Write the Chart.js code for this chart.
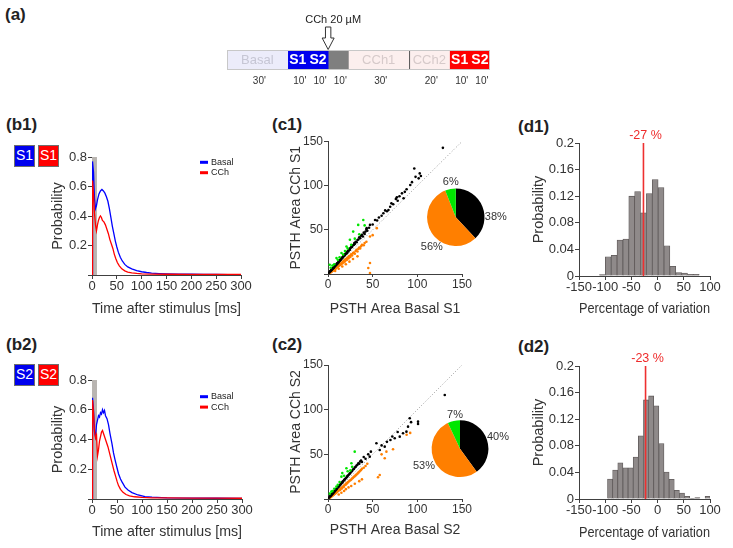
<!DOCTYPE html>
<html><head><meta charset="utf-8">
<script src="https://cdn.jsdelivr.net/npm/chart.js@4.4.1/dist/chart.umd.min.js"></script>
<style>
html,body{margin:0;padding:0;background:#fff;}
body{width:733px;height:548px;overflow:hidden;position:relative;font-family:'Liberation Sans',Arial,sans-serif;}
canvas{position:absolute;}
.plbl{position:absolute;font-weight:bold;font-size:17px;line-height:20px;color:#222;}
.sbox{position:absolute;box-sizing:border-box;width:21px;height:22px;border:1.5px solid #6e6e6e;color:#fff;font-size:14px;text-align:center;line-height:19px;}
</style></head><body>
<div class="plbl" style="left:5px;top:5px">(a)</div>
<div class="plbl" style="left:6px;top:115px">(b1)</div>
<div class="plbl" style="left:272px;top:115px">(c1)</div>
<div class="plbl" style="left:518px;top:117px">(d1)</div>
<div class="plbl" style="left:6px;top:335px">(b2)</div>
<div class="plbl" style="left:272px;top:335px">(c2)</div>
<div class="plbl" style="left:518px;top:337px">(d2)</div>
<div class="sbox" style="left:14px;top:145px;background:#0000ee">S1</div>
<div class="sbox" style="left:38px;top:145px;background:#ff0000">S1</div>
<div class="sbox" style="left:14px;top:364px;background:#0000ee">S2</div>
<div class="sbox" style="left:38px;top:364px;background:#ff0000">S2</div>
<script>
// ---------------- DATA ----------------
// (a) protocol
const segNames   = ['Basal','S1','S2','','CCh1','CCh2','S1','S2'];
const segMinutes = [30,10,10,10,30,20,10,10];
const drugLabel  = 'CCh 20 µM';
const drugSegment = 3;

// (b) PSTH curves [time ms, probability]
const stimWindow = [0, 10];
const b1Basal = [[0,0],[1,0.77],[3,0.70],[5,0.52],[7,0.45],[9,0.47],[11,0.51],[14,0.55],[17,0.57],[20,0.58],[23,0.57],[26,0.555],[29,0.53],[32,0.50],[35,0.45],[38,0.39],[41,0.33],[44,0.28],[47,0.23],[50,0.19],[53,0.155],[57,0.12],[61,0.095],[66,0.072],[72,0.055],[80,0.042],[90,0.03],[100,0.022],[110,0.017],[120,0.013],[135,0.01],[150,0.008],[175,0.006],[200,0.005],[225,0.004],[250,0.004],[275,0.003],[300,0.003]];
const b1CCh = [[0,0],[1,0.64],[3,0.55],[5,0.42],[7,0.34],[9,0.30],[11,0.34],[13,0.37],[15,0.39],[17,0.40],[19,0.39],[21,0.37],[24,0.36],[27,0.34],[30,0.31],[33,0.28],[36,0.24],[39,0.21],[42,0.18],[45,0.14],[48,0.11],[51,0.085],[55,0.062],[60,0.042],[66,0.028],[72,0.02],[80,0.015],[90,0.011],[100,0.008],[120,0.006],[150,0.005],[200,0.004],[250,0.004],[300,0.004]];
const b2Basal = [[0,0],[1,0.68],[3,0.60],[5,0.45],[7,0.42],[9,0.50],[11,0.53],[13,0.56],[15,0.55],[17,0.58],[19,0.57],[21,0.60],[23,0.58],[25,0.595],[27,0.56],[30,0.54],[33,0.50],[36,0.44],[40,0.37],[43,0.31],[46,0.265],[50,0.21],[53,0.17],[57,0.135],[60,0.115],[66,0.08],[72,0.06],[80,0.043],[92,0.027],[106,0.016],[120,0.012],[150,0.008],[200,0.006],[250,0.005],[300,0.004]];
const b2CCh = [[0,0],[1,0.665],[3,0.58],[5,0.46],[7,0.41],[9,0.43],[11,0.29],[13,0.33],[15,0.39],[17,0.42],[19,0.45],[21,0.46],[23,0.44],[26,0.41],[29,0.38],[32,0.35],[35,0.31],[38,0.27],[41,0.23],[44,0.19],[47,0.155],[50,0.12],[53,0.09],[57,0.065],[62,0.045],[68,0.03],[75,0.021],[85,0.015],[100,0.011],[120,0.008],[150,0.007],[200,0.006],[250,0.006],[300,0.005]];

// (c) PSTH areas [basal, CCh]
const c1Black = [[1,1.5],[2,2.4],[2.5,3.2],[3,3.4],[3.5,4.3],[4,4.6],[4.5,5.4],[5,5.6],[5.5,6.6],[6,6.8],[6.5,7.1],[7,8.2],[7.5,8.4],[8,9.3],[8.5,9.5],[9,10.4],[9.5,10.6],[10,11.8],[10.5,12],[11,12.3],[11.5,13.4],[12,13.5],[12.5,14.8],[13,14.6],[13.5,15.7],[14,15.8],[14.5,17],[15,16.9],[15.5,18.2],[16,18.1],[16.5,19],[17,19.8],[17.5,20.5],[18,20.4],[18.5,21.8],[19,21.6],[19.5,23],[20,22.7],[21,24.5],[21.5,23.8],[22,25.6],[22.5,26.3],[23,25.9],[24,28],[24.5,27.5],[25,29.4],[26,30],[26.5,31.2],[27,30.8],[28,32.6],[29,33.2],[29.5,35],[30,34.1],[31,36.5],[32,36],[33,38.4],[34,39],[35,41.5],[36,40.5],[37,43.2],[38,44.5],[39,42.5],[40,46.8],[41,45.2],[42,48],[43,50.5],[44,49],[46,52.4],[47,55.6],[43.3,51.9],[50,56],[52.7,61.2],[55,60.5],[57,64],[60,66],[62,68.8],[64,72],[66,71],[67.7,72.5],[69.6,76.2],[71,80],[73,79],[76,85],[77.1,86.8],[78,83],[80,88],[82.8,91.3],[84.6,85.7],[86,93],[88,96],[92.1,100.7],[94,104],[96.6,119.5],[98,110],[101.5,108.3],[102.7,113.9],[104,111],[128.6,142.8]];
const c1Orange = [[0.5,0.3],[1,0.6],[1.5,0.9],[2,1.3],[2.5,1.5],[3,2.2],[3.5,2.4],[4,2.9],[4.5,3.2],[5,3.6],[5.5,4.4],[6,4.2],[6.5,5],[7,5.3],[7.5,5.8],[8,6.4],[8.5,5.9],[9,7.2],[9.5,7.5],[10,7.8],[10.5,8.6],[11,8.2],[11.5,9.3],[12,9.6],[12.5,10.2],[13,9.8],[13.5,11],[14,11.4],[14.5,10.8],[15,12.2],[15.5,12.8],[16,11.9],[16.5,13.5],[17,14],[17.5,13.1],[18,15],[18.5,15.4],[19,14.2],[19.5,16.3],[20,16.8],[21,15.8],[21.5,17.9],[22,18.5],[23,17.5],[23.5,19.8],[24,20.3],[25,19.2],[25.5,21.5],[26,22.2],[27,21],[28,23.6],[29,24.4],[30,23],[31,26],[32,27.4],[33,25.5],[34,28.5],[35,30],[36,29],[37,31.5],[38,33],[40,32.5],[41,35],[43,36.5],[8,3.5],[12,6],[16,8.5],[20,11],[24,14],[28,17],[33,20],[45.1,6.8],[47,1.1],[47,12.4],[47,42.4],[50,44],[54.6,51.9]];
const c1Green = [[1.9,10.5],[3,7],[5,9.5],[7,11],[9.5,18],[11,16],[13,19],[15.1,23.7],[17,22],[19,26],[20.7,31.1],[22,29],[24.5,38.7],[26,33],[28.2,48],[30,40],[33.8,55.6],[35,45],[39.5,61.2],[41,55]];
const c1Pie = [38,56,6];

const c2Black = [[1,1.4],[2,2.5],[2.5,3],[3,3.6],[3.5,4.1],[4,4.8],[4.5,5.3],[5,6],[5.5,6.3],[6,7.1],[6.5,7.6],[7,8.3],[7.5,8.7],[8,9.5],[8.5,9.8],[9,10.7],[9.5,11],[10,11.9],[11,12.8],[11.5,13.6],[12,14],[12.5,14.6],[13,15.3],[14,16.2],[14.5,17],[15,17.6],[16,18.6],[16.5,19.5],[17,19.8],[18,21.2],[18.5,21.5],[19,22.4],[20,23.3],[21,24.6],[21.5,25],[22,25.9],[23,26.8],[24,28.1],[25,29],[26,30.5],[27,31.3],[28,33],[29,33.6],[30,35.2],[31,36],[32,37.5],[33,38.4],[34,40],[35,39.5],[36,42],[37,43],[38,41.5],[40,47],[42,45],[46.7,47.4],[45,50],[48,53],[54.2,62.4],[57.9,54.9],[60,60],[63.5,58.6],[66,64],[69.9,66],[74.7,68],[80.3,69.8],[84,73.6],[87.8,75.4],[89.6,81],[91.5,90.4],[93,86],[100.8,86.6],[100.8,84],[130.7,116.5],[72,70],[78,75]];
const c2Orange = [[0.5,0.3],[1,0.7],[1.5,1],[2,1.4],[2.5,1.8],[3,2.3],[3.5,2.5],[4,3],[4.5,3.5],[5,3.8],[5.5,4.2],[6,4.7],[6.5,4.9],[7,5.6],[7.5,5.9],[8,6.2],[8.5,6.8],[9,7],[9.5,7.6],[10,8],[10.5,8.3],[11,8.9],[11.5,9.2],[12,9.8],[13,10.5],[13.5,10.2],[14,11.5],[15,12.3],[15.5,11.8],[16,13.2],[17,14],[17.5,13.4],[18,15],[19,15.8],[20,16.2],[20.5,17.2],[21,17.6],[22,18.6],[23,19.2],[24,20.4],[25,21],[26,21.8],[27,23],[28,23.7],[29,24.8],[30,25.5],[31,26.7],[32,27.5],[33,28.4],[34,29.5],[35,30.4],[36,31.6],[37,32.5],[38,33.8],[40,35],[42,37],[44,39.5],[12,5],[15,7],[18,9],[20,11],[23,13],[26,14.5],[30,17],[35,20],[38,22],[56,24.3],[57.9,26.9],[63.5,45.6],[65.4,53],[72.8,55.7],[60,50],[88,72],[92,74]];
const c2Green = [[2,6],[3.8,8.2],[5,9],[7,11.5],[9.4,13.8],[11,16],[13,19],[15,25],[16,29],[18,26],[20.6,34.4],[22,31],[26.2,40],[27,36],[29.9,53],[25,32]];
const c2Pie = [40,53,7];
const identityLine = [0,150];

// (d) histograms of percentage of variation
const d1Bins = [-105.4,-94.2,-83,-71.8,-60.6,-49.4,-38.2,-27,-15.8,-4.6,6.6,17.8,29,40.2,51.4,62.6,73.8];
const d1Prob = [0.002,0.029,0.031,0.054,0.0555,0.120,0.127,0.095,0.124,0.145,0.133,0.0455,0.0145,0.005,0.0045,0.0025,0.0025];
const d1Mean = -27;
const d2Bins = [-90.7,-80.9,-71.1,-61.3,-51.5,-41.7,-31.9,-22.1,-12.3,-2.5,7.3,17.1,26.9,36.7,46.5,56.3,66.1,75.9,85.7,95.5];
const d2Prob = [0.030,0.0435,0.0545,0.047,0.047,0.063,0.095,0.149,0.155,0.140,0.0835,0.0405,0.0295,0.013,0.009,0.004,0.001,0.002,0,0.004];
const d2Mean = -23;

// ---------------- RENDERING ----------------
const FONT = "'Liberation Sans', Arial, sans-serif";
Chart.defaults.font.family = FONT;
Chart.defaults.color = '#333';
Chart.defaults.animation = false;
Chart.defaults.plugins.legend.display = false;
Chart.defaults.plugins.tooltip.enabled = false;

function makeCanvas(box){
  const c = document.createElement('canvas');
  const w = box.r-box.l, h = box.b-box.t;
  c.width = w; c.height = h;
  c.style.left = box.l+'px'; c.style.top = box.t+'px';
  c.style.width = w+'px'; c.style.height = h+'px';
  document.body.appendChild(c);
  return c;
}
const pts = arr => arr.map(([x,y]) => ({x, y}));

function linAxis(o){
  return {
    type:'linear', min:o.min, max:o.max,
    border:{display:true,color:'#404040',width:1},
    grid:{display:true,drawOnChartArea:false,drawTicks:true,tickLength:o.tl??4,color:'#404040'},
    ticks:{stepSize:o.step,autoSkip:false,maxRotation:0,minRotation:0,padding:o.pad??1,
      font:{size:o.tick??13},color:'#333',
      callback:v=>{ if(o.hideZero && Math.abs(v)<1e-9) return ''; return String(Math.round(v*1000)/1000); }},
    title:{display:true,text:o.title,font:{size:o.titleSize??14.5},color:'#333',padding:0},
    afterFit:o.fit
  };
}
function baseOpts(box, plot){
  return {responsive:false, devicePixelRatio:1, animation:false,
    layout:{padding:{left:0,top:plot.t-box.t,right:box.r-plot.r,bottom:0}}};
}

// ---- panel (a): protocol as a stacked horizontal bar ----
(function(){
  const box={l:215,t:0,r:505,b:95}, plot={l:227,t:50,r:490,b:70};
  const fills=['#ececfa','#0000ee','#0000ee','#7f7f7f','#fcefee','#fcefee','#ff0000','#ff0000'];
  const lines=['#cfcfd6','#0000ee','#0000ee','#7f7f7f','#ddd6d6','#ddd6d6','#ff0000','#ff0000'];
  const txtCol=['#c6c6d4','#fff','#fff','#fff','#d6caca','#d6caca','#fff','#fff'];
  const total = segMinutes.reduce((a,b)=>a+b,0);
  const protoPlugin={id:'proto',afterDatasetsDraw(chart){
    const ctx=chart.ctx; ctx.save();
    const els = segNames.map((n,i)=>chart.getDatasetMeta(i).data[0]);
    const top=chart.chartArea.top, bot=chart.chartArea.bottom;
    // outline
    ctx.strokeStyle='#c8c8c8'; ctx.lineWidth=1;
    ctx.strokeRect(Math.min(els[0].base,els[0].x)+0.5, top+0.5, chart.chartArea.right-chart.chartArea.left-1, bot-top-1);
    // divider CCh1 | CCh2
    const dv = Math.min(els[5].base, els[5].x);
    ctx.strokeStyle='#555'; ctx.beginPath(); ctx.moveTo(dv+0.5,top+1); ctx.lineTo(dv+0.5,bot-1); ctx.stroke();
    ctx.textAlign='center'; ctx.textBaseline='middle';
    els.forEach((el,i)=>{
      const l=Math.min(el.base,el.x), r=Math.max(el.base,el.x), cx=(l+r)/2;
      const bold = segNames[i].startsWith('S');
      ctx.font=(bold?'bold 14px ':'13px ')+FONT; ctx.fillStyle=txtCol[i];
      if(segNames[i]) ctx.fillText(segNames[i], cx, (top+bot)/2+0.5);
      ctx.font='10px '+FONT; ctx.fillStyle='#333';
      ctx.fillText(segMinutes[i]+"'", cx+2, bot+11);
    });
    // arrow at drug onset
    const ax = Math.min(els[drugSegment].base, els[drugSegment].x);
    ctx.beginPath();
    ctx.moveTo(ax-2.7, top-23); ctx.lineTo(ax+2.7, top-23); ctx.lineTo(ax+2.7, top-12);
    ctx.lineTo(ax+6, top-12); ctx.lineTo(ax, top-0.5); ctx.lineTo(ax-6, top-12);
    ctx.lineTo(ax-2.7, top-12); ctx.closePath();
    ctx.fillStyle='#fff'; ctx.fill(); ctx.strokeStyle='#333'; ctx.lineWidth=1; ctx.stroke();
    ctx.font='11px '+FONT; ctx.fillStyle='#222';
    ctx.fillText(drugLabel, ax+5, top-30);
    ctx.restore();
  }};
  new Chart(makeCanvas(box),{type:'bar',
    data:{labels:[''],datasets:segNames.map((n,i)=>({label:n||'wash',data:[segMinutes[i]],backgroundColor:fills[i],
      borderColor:lines[i],borderWidth:0,barPercentage:1,categoryPercentage:1}))},
    options:Object.assign(baseOpts(box,plot),{indexAxis:'y',
      layout:{padding:{left:plot.l-box.l,top:plot.t-box.t,right:box.r-plot.r,bottom:box.b-plot.b}},
      scales:{x:{stacked:true,display:false,min:0,max:total},y:{stacked:true,display:false}}}),
    plugins:[protoPlugin]});
})();

// ---- panels (b): PSTH ----
const stimPlugin={id:'stim',beforeDatasetsDraw(chart){
  const {x,y}=chart.scales, ctx=chart.ctx;
  const x0=x.getPixelForValue(stimWindow[0]), x1=x.getPixelForValue(stimWindow[1]);
  const y0=y.getPixelForValue(y.max), y1=y.getPixelForValue(0);
  ctx.save(); ctx.fillStyle='#b9b5b1'; ctx.fillRect(x0,y0,x1-x0,y1-y0); ctx.restore();
}};
const legPlugin={id:'inLegend',afterDatasetsDraw(chart,args,o){
  const ctx=chart.ctx, ca=chart.chartArea; ctx.save();
  ctx.font='9px '+FONT; ctx.textBaseline='middle'; ctx.textAlign='left';
  chart.data.datasets.forEach((ds,i)=>{
    const lx=ca.left+o.dx, ly=ca.top+o.dy+i*10.4;
    ctx.fillStyle=ds.borderColor; ctx.fillRect(lx,ly-1.5,8,3);
    ctx.fillStyle='#222'; ctx.fillText(ds.label,lx+11,ly);
  });
  ctx.restore();
}};
function psth(box, plot, basal, cch, legDy){
  const opts=baseOpts(box,plot);
  opts.scales={
    x:linAxis({min:0,max:300,step:50,title:'Time after stimulus [ms]',fit:s=>{s.height=box.b-plot.b;},tl:4,pad:0}),
    y:linAxis({min:0,max:0.8,step:0.2,title:'Probability',hideZero:true,fit:s=>{s.width=plot.l-box.l;}})
  };
  opts.plugins={inLegend:{dx:108,dy:legDy}};
  new Chart(makeCanvas(box),{type:'line',
    data:{datasets:[
      {label:'Basal',data:pts(basal),borderColor:'#0000ff',borderWidth:1.3,pointRadius:0,tension:0,order:2},
      {label:'CCh',data:pts(cch),borderColor:'#ff0000',borderWidth:1.3,pointRadius:0,tension:0,order:1}]},
    options:opts, plugins:[stimPlugin,legPlugin]});
}
psth({l:49,t:140,r:262,b:318},{l:92,t:157,r:241,b:275},b1Basal,b1CCh,5.3);
psth({l:49,t:363,r:262,b:541},{l:92,t:380,r:242,b:499},b2Basal,b2CCh,16.7);

// ---- panels (c): scatter + pie ----
function scatter(box, plot, black, orange, green, sname){
  const opts=baseOpts(box,plot);
  opts.scales={
    x:linAxis({min:0,max:150,step:50,title:'PSTH Area Basal '+sname,tick:12,titleSize:14,tl:3,pad:0,fit:s=>{s.height=box.b-plot.b;}}),
    y:linAxis({min:0,max:150,step:50,title:'PSTH Area CCh '+sname,tick:12,titleSize:14,hideZero:true,fit:s=>{s.width=plot.l-box.l;}})
  };
  new Chart(makeCanvas(box),{type:'scatter',
    data:{datasets:[
      {label:'identity',data:identityLine.map(v=>({x:v,y:v})),showLine:true,borderColor:'#9a9a9a',borderWidth:1,borderDash:[1,2],pointRadius:0,order:4},
      {label:'decrease',data:pts(orange),backgroundColor:'#ff7f00',borderWidth:0,pointRadius:1.3,order:3},
      {label:'no change',data:pts(black),backgroundColor:'#000',borderWidth:0,pointRadius:1.3,order:2},
      {label:'increase',data:pts(green),backgroundColor:'#00e600',borderWidth:0,pointRadius:1.3,order:1}]},
    options:opts});
}
scatter({l:288,t:125,r:480,b:318},{l:328,t:141.5,r:462,b:274},c1Black,c1Orange,c1Green,'S1');
scatter({l:288,t:350,r:480,b:539},{l:328,t:365,r:462,b:499},c2Black,c2Orange,c2Green,'S2');

const pieLabelPlugin={id:'pieLabels',afterDatasetsDraw(chart,args,o){
  const ctx=chart.ctx, arc=chart.getDatasetMeta(0).data[0];
  ctx.save(); ctx.font='11px '+FONT; ctx.fillStyle='#333'; ctx.textAlign='center'; ctx.textBaseline='middle';
  chart.data.datasets[0].data.forEach((v,i)=>ctx.fillText(v+'%',arc.x+o.off[i][0],arc.y+o.off[i][1]));
  ctx.restore();
}};
function pie(cx, cy, r, values, off){
  const box={l:Math.round(cx-61),t:Math.round(cy-50),r:Math.round(cx-61)+122,b:Math.round(cy-50)+100};
  const pl=(cx-box.l)-r, pt=(cy-box.t)-r;
  new Chart(makeCanvas(box),{type:'pie',
    data:{labels:['no change','decrease','increase'],datasets:[{data:values,backgroundColor:['#000000','#ff7f00','#00e600'],borderWidth:0}]},
    options:{responsive:false,devicePixelRatio:1,animation:false,
      layout:{padding:{left:pl,right:122-pl-2*r,top:pt,bottom:100-pt-2*r}},
      plugins:{pieLabels:{off}}},
    plugins:[pieLabelPlugin]});
}
pie(455.8,217.3,28.7,c1Pie,[[40,0],[-24,30],[-5,-35.6]]);
pie(460,448.7,28.4,c2Pie,[[38,-11.4],[-36,17],[-5,-33.7]]);

// ---- panels (d): histograms ----
const meanPlugin={id:'meanLbl',afterDatasetsDraw(chart,args,o){
  const ctx=chart.ctx, x=chart.scales.x.getPixelForValue(o.value);
  ctx.save(); ctx.font='12.5px '+FONT; ctx.fillStyle='#ee2a2a'; ctx.textAlign='center'; ctx.textBaseline='middle';
  ctx.fillText(o.value+' %', x+2, chart.chartArea.top-7); ctx.restore();
}};
function hist(box, plot, bins, prob, mean){
  const opts=baseOpts(box,plot);
  opts.scales={
    x:Object.assign(linAxis({min:-150,max:100,step:50,title:'Percentage of variation',fit:s=>{s.height=box.b-plot.b;},pad:0}),{offset:false}),
    y:linAxis({min:0,max:0.2,step:0.04,title:'Probability',fit:s=>{s.width=plot.l-box.l;}})
  };
  opts.scales.x.grid.offset=false;
  opts.plugins={meanLbl:{value:mean}};
  new Chart(makeCanvas(box),{type:'bar',
    data:{datasets:[
      {type:'line',label:'mean',data:[{x:mean,y:0},{x:mean,y:0.2}],borderColor:'#ee3030',borderWidth:1.6,pointRadius:0,order:0},
      {type:'bar',label:'variation',data:bins.map((b,i)=>({x:b,y:prob[i]})),backgroundColor:'#8f8a8a',borderColor:'#5e5959',borderWidth:0.8,barPercentage:1,categoryPercentage:1,order:1}]},
    options:opts, plugins:[meanPlugin]});
}
hist({l:530,t:120,r:728,b:318},{l:579,t:143,r:710,b:276},d1Bins,d1Prob,d1Mean);
hist({l:530,t:345,r:728,b:542},{l:579,t:366,r:710,b:499},d2Bins,d2Prob,d2Mean);
</script>
</body></html>
